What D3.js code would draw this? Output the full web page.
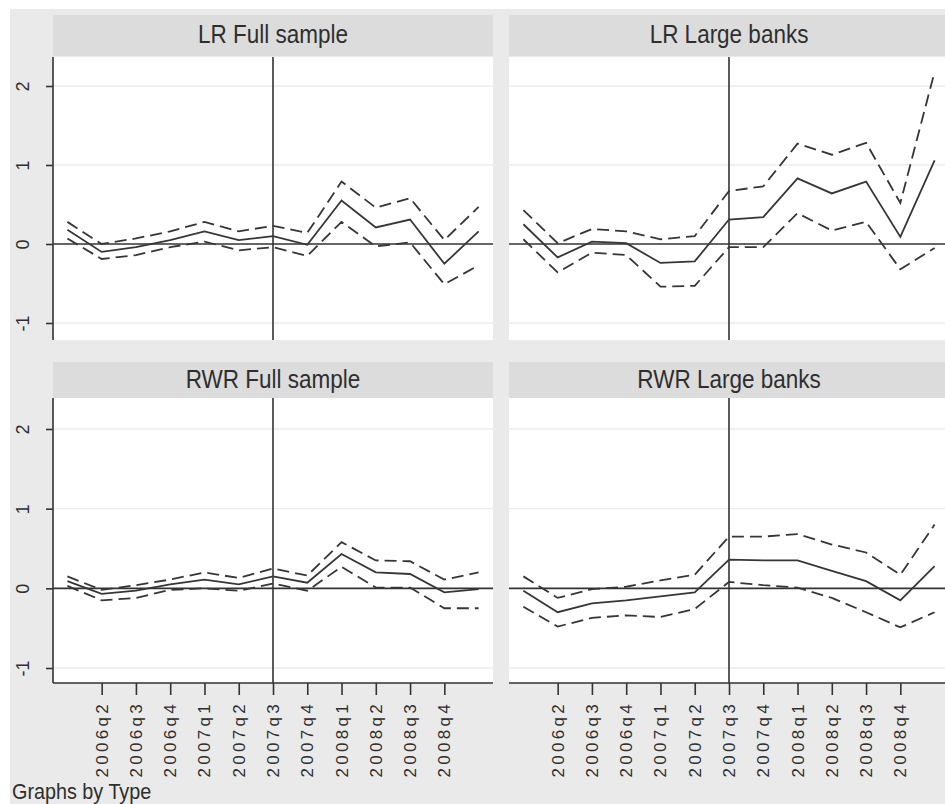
<!DOCTYPE html>
<html>
<head>
<meta charset="utf-8">
<script src="https://cdn.jsdelivr.net/npm/d3@7"></script>
<style>
  body { margin: 0; background: #ffffff; }
  svg { display: block; font-family: "Liberation Sans", Arial, sans-serif; }
</style>
</head>
<body>
<svg id="chart" width="945" height="804"></svg>
<script>
// Quarterly coefficient estimates with confidence bands, by Type
const quarters = ["2006q1", "2006q2", "2006q3", "2006q4", "2007q1", "2007q2", "2007q3",
                  "2007q4", "2008q1", "2008q2", "2008q3", "2008q4", "2009q1"];
const tickQuarters = ["2006q2", "2006q3", "2006q4", "2007q1", "2007q2", "2007q3",
                      "2007q4", "2008q1", "2008q2", "2008q3", "2008q4"];
const eventQuarter = "2007q3";
const yTicks = [-1, 0, 1, 2];
const panelTitles = ["LR Full sample", "LR Large banks", "RWR Full sample", "RWR Large banks"];
const footnote = "Graphs by Type";

// LR, full sample
const lrFullEst   = [0.18, -0.10, -0.04, 0.05, 0.16, 0.05, 0.10, -0.01, 0.55, 0.21, 0.31, -0.25, 0.16];
const lrFullUpper = [0.28,  0.00,  0.07, 0.16, 0.28, 0.16, 0.23,  0.14, 0.79, 0.46, 0.58,  0.05, 0.47];
const lrFullLower = [0.07, -0.19, -0.14, -0.04, 0.03, -0.08, -0.04, -0.15, 0.28, -0.03, 0.02, -0.51, -0.27];

// LR, large banks
const lrLargeEst   = [0.25, -0.17, 0.03, 0.01, -0.24, -0.22, 0.31, 0.34, 0.83, 0.64, 0.79, 0.09, 1.06];
const lrLargeUpper = [0.43,  0.01, 0.19, 0.16,  0.06,  0.10, 0.67, 0.73, 1.27, 1.13, 1.28, 0.52, 2.18];
const lrLargeLower = [0.06, -0.36, -0.11, -0.14, -0.54, -0.53, -0.04, -0.04, 0.39, 0.17, 0.28, -0.32, -0.05];

// RWR, full sample
const rwrFullEst   = [0.09, -0.07, -0.03, 0.05, 0.11, 0.05, 0.15, 0.07, 0.43, 0.20, 0.18, -0.05, -0.01];
const rwrFullUpper = [0.15, -0.02,  0.04, 0.11, 0.20, 0.13, 0.25, 0.16, 0.58, 0.35, 0.34,  0.11,  0.20];
const rwrFullLower = [0.03, -0.15, -0.12, -0.02, 0.00, -0.03, 0.06, -0.03, 0.27, 0.01, 0.01, -0.25, -0.25];

// RWR, large banks
const rwrLargeEst   = [-0.03, -0.30, -0.19, -0.15, -0.10, -0.05, 0.36, 0.35, 0.35, 0.22, 0.09, -0.15, 0.28];
const rwrLargeUpper = [ 0.15, -0.12, -0.01,  0.02,  0.10,  0.17, 0.65, 0.65, 0.68, 0.55, 0.45,  0.17, 0.80];
const rwrLargeLower = [-0.23, -0.48, -0.37, -0.34, -0.36, -0.26, 0.08, 0.04, 0.01, -0.12, -0.30, -0.49, -0.30];

const panels = [
  { title: panelTitles[0], est: lrFullEst,  upper: lrFullUpper,  lower: lrFullLower,  col: 0, row: 0 },
  { title: panelTitles[1], est: lrLargeEst, upper: lrLargeUpper, lower: lrLargeLower, col: 1, row: 0 },
  { title: panelTitles[2], est: rwrFullEst,  upper: rwrFullUpper,  lower: rwrFullLower,  col: 0, row: 1 },
  { title: panelTitles[3], est: rwrLargeEst, upper: rwrLargeUpper, lower: rwrLargeLower, col: 1, row: 1 }
];

// Layout of the 2x2 grid
const cols = [{ x0: 53, x1: 493 }, { x0: 509, x1: 949 }];
const rows = [
  { h0: 15,  h1: 56,  y0: 57,  y1: 340, yMinus1: 323, yTwo: 86,  titleY: 43 },
  { h0: 362, h1: 398, y0: 398, y1: 683, yMinus1: 668, yTwo: 429, titleY: 388 }
];

const ink = "#333333";
const svg = d3.select("#chart");

// Figure background
svg.append("rect").attr("x", 10).attr("y", 9).attr("width", 940).attr("height", 800)
  .attr("fill", "#eaeaea");

panels.forEach(p => {
  const c = cols[p.col], r = rows[p.row];
  const x = d3.scalePoint().domain(quarters).range([c.x0, c.x1]).padding(0.42);
  const y = d3.scaleLinear().domain([-1, 2]).range([r.yMinus1, r.yTwo]);
  const g = svg.append("g");

  // Strip header (condensed title text)
  g.append("rect").attr("x", c.x0).attr("y", r.h0).attr("width", c.x1 - c.x0).attr("height", r.h1 - r.h0)
    .attr("fill", "#dcdcdc");
  g.append("text")
    .attr("transform", `translate(${(c.x0 + c.x1) / 2},${r.titleY}) scale(0.9,1)`)
    .attr("text-anchor", "middle").attr("font-size", 25).attr("fill", "#2e2e2e")
    .text(p.title);

  // Plot region
  g.append("rect").attr("x", c.x0).attr("y", r.y0).attr("width", c.x1 - c.x0).attr("height", r.y1 - r.y0)
    .attr("fill", "#ffffff");

  // Faint horizontal grid
  g.selectAll(".grid").data(yTicks.filter(v => v !== 0)).enter().append("line")
    .attr("x1", c.x0).attr("x2", c.x1)
    .attr("y1", d => y(d)).attr("y2", d => y(d))
    .attr("stroke", "#ececec").attr("stroke-width", 1.3);

  // Reference lines: zero and event quarter
  g.append("line").attr("x1", c.x0).attr("x2", c.x1).attr("y1", y(0)).attr("y2", y(0))
    .attr("stroke", ink).attr("stroke-width", 1.6);
  g.append("line").attr("x1", x(eventQuarter)).attr("x2", x(eventQuarter)).attr("y1", r.y0).attr("y2", r.y1)
    .attr("stroke", ink).attr("stroke-width", 1.6);

  // Series: upper and lower bands dashed, estimate solid
  const line = d3.line().x((d, i) => x(quarters[i])).y(d => y(d));
  [[p.upper, "12,6"], [p.lower, "12,6"], [p.est, null]].forEach(([vals, dash]) => {
    const path = g.append("path").datum(vals).attr("d", line)
      .attr("fill", "none").attr("stroke", "#363636").attr("stroke-width", 1.8)
      .attr("stroke-linejoin", "miter");
    if (dash) path.attr("stroke-dasharray", dash);
  });

  // Y axis on the left column
  if (p.col === 0) {
    g.append("line").attr("x1", c.x0).attr("x2", c.x0).attr("y1", r.y0).attr("y2", r.y1)
      .attr("stroke", ink).attr("stroke-width", 1.6);
    const ya = g.append("g").attr("transform", `translate(${c.x0},0)`)
      .call(d3.axisLeft(y).tickValues(yTicks).tickSize(7).tickSizeOuter(0).tickFormat(d => String(d)));
    ya.select(".domain").remove();
    ya.selectAll(".tick line").attr("stroke", ink).attr("stroke-width", 1.6);
    ya.selectAll(".tick text")
      .attr("x", null).attr("dy", null)
      .attr("transform", "translate(-30,0) rotate(-90)")
      .attr("text-anchor", "middle").attr("dominant-baseline", "central")
      .attr("font-size", 18).attr("fill", "#2e2e2e")
      .style("font-family", "'Liberation Sans', Arial, sans-serif");
  }

  // X axis on the bottom row
  if (p.row === 1) {
    g.append("line").attr("x1", c.x0).attr("x2", c.x1).attr("y1", r.y1).attr("y2", r.y1)
      .attr("stroke", ink).attr("stroke-width", 1.6);
    const xa = g.append("g").attr("transform", `translate(0,${r.y1})`)
      .call(d3.axisBottom(x).tickValues(tickQuarters).tickSize(12).tickSizeOuter(0));
    xa.select(".domain").remove();
    xa.selectAll(".tick line").attr("stroke", ink).attr("stroke-width", 1.6);
    xa.selectAll(".tick text")
      .attr("y", null).attr("dy", null)
      .attr("transform", "translate(0,18) rotate(-90)")
      .attr("text-anchor", "end").attr("dominant-baseline", "central")
      .attr("font-size", 17).attr("letter-spacing", "3.3px").attr("fill", "#2e2e2e")
      .style("font-family", "'Liberation Sans', Arial, sans-serif");
  }
});

// Footnote
svg.append("text").attr("transform", "translate(12,799) scale(0.9,1)")
  .attr("font-size", 22).attr("fill", "#2e2e2e")
  .text(footnote);
</script>
</body>
</html>
